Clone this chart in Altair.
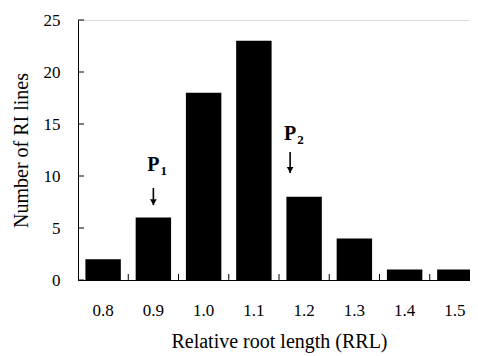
import altair as alt
import pandas as pd

categories = ["0.8", "0.9", "1.0", "1.1", "1.2", "1.3", "1.4", "1.5"]
counts = [2, 6, 18, 23, 8, 4, 1, 1]
y_ticks = [0, 5, 10, 15, 20, 25]

# annotations: category, subscript, label baseline value, arrow top value, arrow tip value
p1 = {"cat": ["0.9"], "sub": ["1"], "ly": [10.5], "at": [8.85], "ab": [7.2]}
p2 = {"cat": ["1.2"], "sub": ["2"], "ly": [13.5], "at": [12.3], "ab": [10.3]}

df = pd.DataFrame({"cat": categories, "n": counts})
ticks_df = pd.DataFrame({"cat": categories[1:]})
yt_df = pd.DataFrame({"v": y_ticks})

FONT = "Liberation Serif"
x_scale = alt.Scale(domain=categories, paddingInner=0, paddingOuter=0, range=[0, 402])
y_scale = alt.Scale(domain=[0, 25])
X = lambda: alt.X("cat:N", scale=x_scale, sort=categories)

bars = alt.Chart(df).mark_bar(color="black", width=alt.RelativeBandSize(0.705)).encode(
    x=alt.X("cat:N", scale=x_scale, sort=categories,
            axis=alt.Axis(title="Relative root length  (RRL)", labelAngle=0, ticks=False,
                          labelPadding=22, titlePadding=13, domainColor="black",
                          labelFont=FONT, titleFont=FONT, labelFontSize=17, titleFontSize=20,
                          labelColor="black", titleColor="black", titleFontWeight="normal")),
    y=alt.Y("n:Q", scale=y_scale,
            axis=alt.Axis(title="Number of RI lines", values=y_ticks, ticks=False, grid=False,
                          labelPadding=18, titlePadding=12, domainColor="black",
                          labelFont=FONT, titleFont=FONT, labelFontSize=17, titleFontSize=20,
                          labelColor="black", titleColor="black", titleFontWeight="normal")),
)

xticks = alt.Chart(ticks_df).mark_rule(color="black").encode(
    x=alt.X("cat:N", scale=x_scale, sort=categories, bandPosition=0),
    y=alt.value(254), y2=alt.value(260),
)

yticks = alt.Chart(yt_df).mark_rule(color="black").encode(
    y=alt.Y("v:Q", scale=y_scale),
    x=alt.value(0), x2=alt.value(6),
)


def annotation(d, dx):
    adf = pd.DataFrame(d)
    base = alt.Chart(adf)
    plabel = base.mark_text(font=FONT, fontSize=20, fontWeight="bold", color="black",
                            baseline="alphabetic", dx=dx).encode(
        x=X(), y=alt.Y("ly:Q", scale=y_scale), text=alt.value("P"))
    psub = base.mark_text(font=FONT, fontSize=13, fontWeight="bold", color="black",
                          baseline="alphabetic", align="left", dx=dx + 7, dy=4).encode(
        x=X(), y=alt.Y("ly:Q", scale=y_scale), text="sub:N")
    stem = base.mark_rule(color="black", strokeWidth=1.6, xOffset=dx).encode(
        x=X(), y=alt.Y("at:Q", scale=y_scale), y2="ab:Q")
    head = base.mark_point(shape="triangle-down", filled=True, color="black", opacity=1,
                           size=45, xOffset=dx, yOffset=-3).encode(
        x=X(), y=alt.Y("ab:Q", scale=y_scale))
    return [plabel, psub, stem, head]


chart = alt.layer(bars, xticks, yticks, *annotation(p1, 0), *annotation(p2, -14)).properties(
    width=392, height=260,
    autosize=alt.AutoSizeParams(type="none"),
    padding={"left": 70, "top": 12, "right": 0, "bottom": 76},
).configure_view(stroke=None).configure(background="white")

chart.save("out.html", embed_options={"renderer": "svg", "actions": False})
